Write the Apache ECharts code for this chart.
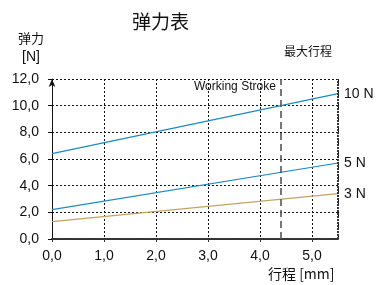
<!DOCTYPE html>
<html>
<head>
<meta charset="utf-8">
<script src="https://cdn.jsdelivr.net/npm/echarts@6/dist/echarts.min.js"></script>
<style>
html, body { margin: 0; padding: 0; background: #fff; }
#main { width: 387px; height: 285px; }
</style>
</head>
<body>
<div id="main"></div>
<script>
// 弹簧规格 (10 N / 5 N / 3 N)
var springNames = ['10 N', '5 N', '3 N'];
var strokeX = [0, 5.5];
var force10 = [6.4, 10.9];
var force5 = [2.2, 5.7];
var force3 = [1.3, 3.4];
var maxStroke = 4.4;

var lineColors = ['#1b8ac4', '#1b8ac4', '#c4a262'];

function pairs(ys) {
	var out = [];
	for (var i = 0; i < strokeX.length; i++) {
		out.push([strokeX[i], ys[i]]);
	}
	return out;
}

function fmt(v) {
	return v.toFixed(1).replace('.', ',');
}

var allForces = [force10, force5, force3];
var series = [];
for (var k = 0; k < springNames.length; k++) {
	series.push({
		name: springNames[k],
		type: 'line',
		data: pairs(allForces[k]),
		symbol: 'none',
		silent: true,
		lineStyle: { color: lineColors[k], width: 1.2 },
		endLabel: {
			show: true,
			formatter: '{a}',
			color: '#111',
			fontSize: 14,
			fontFamily: 'Liberation Sans, Arial, sans-serif',
			distance: 6
		}
	});
}
// 最大行程 + 右边框
series[0].markLine = {
	silent: true,
	symbol: 'none',
	label: { show: false },
	data: [
		{ xAxis: maxStroke, lineStyle: { color: '#555', type: [7, 4], width: 1.6 } },
		{ xAxis: strokeX[strokeX.length - 1], lineStyle: { color: '#333', type: [2, 1], width: 2 } }
	]
};

var myChart = echarts.init(document.getElementById('main'));
var option = {
	animation: false,
	textStyle: { fontFamily: 'Liberation Sans, Arial, sans-serif' },
	title: {
		text: '弹力表',
		left: 127,
		top: 7,
		textStyle: { fontSize: 19, fontWeight: 'normal', color: '#111', fontFamily: 'Noto Sans CJK SC' }
	},
	graphic: [
		{ type: 'text', left: 18, top: 32, style: { text: '弹力', fill: '#111', font: '13px "Noto Sans CJK SC"' } },
		{ type: 'text', left: 22, top: 50, style: { text: '[N]', fill: '#111', font: '14px "Liberation Sans"' } },
		{ type: 'text', left: 284, top: 45, style: { text: '最大行程', fill: '#111', font: '12px "Noto Sans CJK SC"' } },
		{ type: 'text', left: 194, top: 81, style: { text: 'Working Stroke', fill: '#111', font: '12px "Liberation Sans"' } },
		{ type: 'text', left: 268, top: 267, style: { text: '行程 [mm]', fill: '#111', font: '14px "Noto Sans CJK SC"' } }
	],
	grid: { left: 52, right: 49, top: 79, bottom: 46 },
	xAxis: {
		type: 'value',
		min: 0,
		max: 5.5,
		interval: 1,
		axisLine: { show: true, onZero: false, lineStyle: { color: '#333', width: 2, type: [2, 1] } },
		axisTick: { show: true, length: 3, lineStyle: { color: '#333' } },
		axisLabel: {
			color: '#111',
			fontSize: 14,
			margin: 10,
			showMaxLabel: false,
			formatter: function(v) { return fmt(v); }
		},
		splitLine: { show: true, lineStyle: { color: '#111', type: [2, 2], width: 1 } }
	},
	yAxis: {
		type: 'value',
		min: 0,
		max: 12,
		interval: 2,
		axisLine: { show: true, symbol: ['none', 'arrow'], symbolSize: [5, 8], symbolOffset: [0, 0], lineStyle: { color: '#111', width: 1 } },
		axisTick: { show: true, length: 4, lineStyle: { color: '#111' } },
		axisLabel: {
			color: '#111',
			fontSize: 14,
			margin: 13,
			formatter: function(v) { return fmt(v); }
		},
		splitLine: { show: true, lineStyle: { color: '#111', type: [2, 2], width: 1 } }
	},
	series: series
};
myChart.setOption(option);
</script>
</body>
</html>
